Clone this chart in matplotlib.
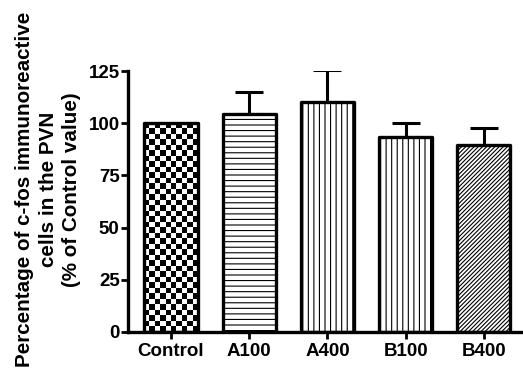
import numpy as np
import matplotlib
matplotlib.use("Agg")
import matplotlib.pyplot as plt

# data
groups = ['Control', 'A100', 'A400', 'B100', 'B400']
means = [100, 104.5, 110, 93.5, 89.5]
sem = [0, 10.5, 15.5, 6.5, 8]
hatches = [None, '---', '|||', '|||', '////////']

plt.rcParams['font.family'] = ['Liberation Sans', 'DejaVu Sans']
plt.rcParams['font.weight'] = 'bold'
plt.rcParams['hatch.linewidth'] = 0.8
plt.rcParams['hatch.color'] = '#333333'

fig = plt.figure(figsize=(5.23, 3.87), dpi=100)
ax = fig.add_axes([128/523, 1-332/387, 1-128/523, 261/387])

x = np.arange(len(groups))
bars = ax.bar(x, means, width=0.68, color='white', edgecolor='black',
              linewidth=2.4, zorder=2)
for b, h in zip(bars, hatches):
    b.set_joinstyle('round')
    if h:
        b.set_hatch(h)

# checkerboard fill for the control bar, clipped to the bar
cb = bars[0]
cb.set_facecolor('none')
x0, w, hgt = cb.get_x(), cb.get_width(), cb.get_height()
nx, ny = 10, 38
checker = (np.add.outer(np.arange(ny), np.arange(nx)) % 2).astype(float)
im = ax.imshow(checker, cmap='gray', extent=(x0, x0 + w, 0, hgt),
               interpolation='nearest', aspect='auto', zorder=1.5)
im.set_clip_path(cb)

# only the upper half of the error bar shows above the bar
ax.errorbar(x[1:], means[1:], yerr=[np.zeros(4), sem[1:]], fmt='none',
            ecolor='black', elinewidth=2.2, capsize=10, capthick=2.2, zorder=1)

ax.set_xlim(-0.55, 4.5)
ax.set_ylim(0, 125)
ax.set_yticks([0, 25, 50, 75, 100, 125])
ax.set_xticks(x)
ax.set_xticklabels(groups)
for s in ['top', 'right']:
    ax.spines[s].set_visible(False)
for s in ['left', 'bottom']:
    ax.spines[s].set_linewidth(2.4)
ax.tick_params(axis='both', width=2, length=5, labelsize=13.5, pad=3)
ax.tick_params(axis='y', pad=1)
ax.set_aspect('auto')

fig.text(0.092, 0.51,
         'Percentage of c-fos immunoreactive\ncells in the PVN\n(% of Control value)',
         rotation=90, ha='center', va='center', multialignment='center',
         fontsize=14.9, linespacing=1.3)

fig.savefig('out.png', dpi=100)
